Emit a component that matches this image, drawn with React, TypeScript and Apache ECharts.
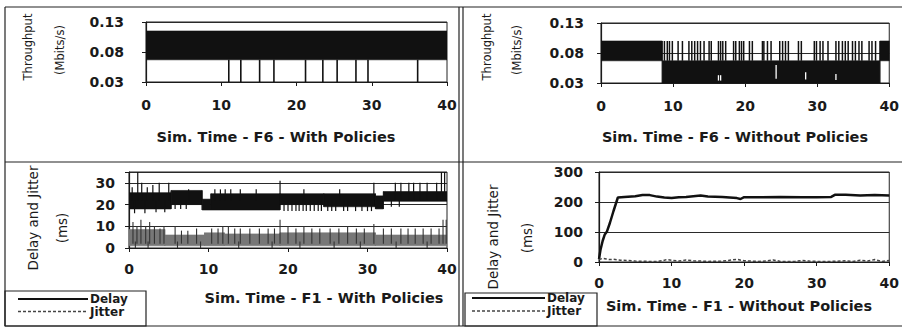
import React, { useEffect, useRef } from 'react';
import * as echarts from 'echarts';

// ---------- Top-left: Throughput, F6, with policies ----------
const tlBandT = [0, 40];
const tlBandLo = [0.067, 0.067];
const tlBandHi = [0.115, 0.115];
const tlDipT = [11.0, 12.6, 15.1, 17.0, 21.2, 23.5, 25.4, 27.9, 29.5, 36.1];
const tlDipFrom = 0.067;
const tlDipTo = 0.03;

// ---------- Top-right: Throughput, F6, without policies ----------
const trBandT = [0, 8.5, 8.5, 38.7, 38.7, 40];
const trBandLo = [0.067, 0.067, 0.03, 0.03, 0.067, 0.067];
const trBandHi = [0.1, 0.1, 0.067, 0.067, 0.1, 0.1];
const trSpikeT = [8.8, 9.2, 9.5, 9.9, 10.7, 11.3, 12.2, 12.6, 13.0, 13.4, 13.8, 14.3, 15.0, 15.3, 16.3, 16.6, 16.9, 17.3, 18.4, 18.7, 19.2, 19.5, 19.8, 20.6, 21.0, 22.4, 22.6, 23.1, 23.6, 24.8, 25.2, 25.6, 26.0, 27.4, 27.8, 29.6, 29.9, 30.4, 30.8, 31.5, 32.6, 33.0, 33.5, 33.9, 34.3, 34.9, 35.3, 35.8, 36.2, 37.2, 37.6, 38.1];
const trSpikeFrom = 0.067;
const trSpikeTo = 0.1;
const trGapT = [16.3, 16.6, 24.3, 28.4, 32.6];
const trGapLo = [0.034, 0.034, 0.037, 0.036, 0.035];
const trGapHi = [0.043, 0.043, 0.06, 0.048, 0.045];

// ---------- Bottom-left: Delay and Jitter, F1, with policies ----------
const blDelayT = [0, 5.3, 5.3, 9.2, 9.2, 10.3, 10.3, 19, 19, 24.5, 24.5, 31, 31, 32, 32, 40];
const blDelayLo = [18, 18, 20, 20, 17.5, 17.5, 17.5, 17.5, 20, 20, 19, 19, 18, 18, 21.5, 21.5];
const blDelayHi = [25.5, 25.5, 26.5, 26.5, 22.5, 22.5, 25, 25, 25, 25, 25, 25, 24, 24, 26, 26];
const blUpT = [0.4, 1.1, 1.6, 2.3, 3.0, 3.8, 5.0, 7.5, 10.8, 11.5, 12.1, 12.8, 14.0, 16.0, 19.0, 22.0, 26.5, 30.8, 33.5, 34.2, 35.2, 35.8, 36.6, 37.5, 38.7, 39.3, 39.7];
const blUpV = [28, 35, 30, 28, 29, 30, 30, 27, 27, 27, 27, 27, 27, 27, 31, 27, 27, 30, 30, 30, 30, 30, 30, 30, 30, 35, 35];
const blDownT = [0.7, 2.0, 3.4, 4.5, 5.8, 6.5, 7.2, 19.5, 20.0, 20.5, 21.0, 21.4, 21.9, 22.3, 22.8, 23.3, 23.8, 24.2, 25.0, 25.5, 26.0, 27.0, 27.5, 28.5, 29.3, 30.0, 30.5, 33.0, 34.0];
const blDownV = [16, 16, 16.5, 16.5, 18, 18, 18, 17, 17, 17, 17, 17, 17, 17, 17, 17, 17, 17, 17, 17, 17, 17, 17, 17, 17, 17, 17, 19, 19];
const blJitT = [0, 4.5, 4.5, 9.5, 9.5, 12, 12, 19, 19, 31, 31, 40];
const blJitLo = [1, 1, 1, 1, 1, 1, 1, 1, 1, 1, 1, 1];
const blJitHi = [8.5, 8.5, 6, 6, 7, 7, 6.5, 6.5, 7, 7, 6, 6];
const blJitSpT = [0.5, 1.0, 1.5, 2.1, 2.6, 3.2, 3.9, 4.4, 5.8, 6.6, 7.4, 8.5, 10.4, 11.2, 11.8, 12.5, 13.3, 14, 15.2, 16.4, 17.5, 18.3, 19, 20, 21, 22, 23, 24, 25.3, 26.4, 27.5, 28.6, 29.6, 30.8, 32, 33, 34.2, 35.1, 36, 37, 38, 39, 39.5, 39.9];
const blJitSpV = [12, 10, 13, 10, 12, 10, 9, 10, 10, 8, 8, 9, 9, 9, 10, 10, 9, 9, 9, 9, 9, 9, 13, 10, 9, 10, 9, 9, 9, 9, 10, 9, 9, 11, 9, 9, 9, 9, 9, 9, 9, 9, 13, 13];
const blJitDownT = [0.8, 2.4, 6.1, 9.0, 13.8, 18.0, 21.5, 25.8, 29.1, 33.6, 37.5];
const blJitDownV = [0, 0, 0, 0, 0, 0, 0, 0, 0, 0, 0];

// ---------- Bottom-right: Delay and Jitter, F1, without policies ----------
const brDelayT = [0, 0.2, 0.5, 0.8, 1.1, 1.5, 2.0, 2.6, 3.5, 5, 6, 7, 8, 9, 10, 11, 12, 14, 15, 17, 19, 19.5, 20, 22, 25, 28, 30, 32, 32.5, 34, 36, 38, 40];
const brDelayV = [10, 40, 70, 92, 102, 130, 170, 215, 217, 219, 223, 223, 218, 215, 213, 216, 217, 222, 218, 217, 213, 210, 216, 216, 217, 216, 216, 217, 224, 224, 222, 223, 222];
const brJitT = [0, 0.5, 1, 1.5, 2, 3, 4, 5, 7, 8, 8.7, 9.3, 10, 11, 12, 13, 15, 17, 18, 19, 20, 22, 23, 24, 25, 27, 28, 29, 30, 32, 34, 35, 36, 37, 38, 39, 40];
const brJitV = [8, 12, 10, 8, 9, 6, 5, 3, 2, 2, 4, 8, 6, 3, 7, 4, 2, 3, 6, 9, 4, 2, 3, 7, 2, 2, 5, 3, 2, 2, 4, 2, 6, 3, 8, 2, 5];

const titles = [
  'Sim. Time - F6 - With Policies',
  'Sim. Time - F6 - Without Policies',
  'Sim. Time - F1 - With Policies',
  'Sim. Time - F1 - Without Policies',
];
const legendNames = ['Delay', 'Jitter'];

const INK = '#1a1a1a';
const BOLD = '"DejaVu Sans", sans-serif';
const DELAY_STYLE = { color: '#111', width: 2.5 };
const JITTER_STYLE = { color: '#444', width: 1.5, dash: [3, 2] };

function bandSeries(name: string, idx: number, t: number[], lo: number[], hi: number[], color: string, z = 2) {
  const data: number[][] = [];
  for (let i = 0; i < t.length - 1; i++) data.push([t[i], lo[i], hi[i], t[i + 1], lo[i + 1], hi[i + 1]]);
  return {
    type: 'custom', name, xAxisIndex: idx, yAxisIndex: idx, data, clip: true, z,
    encode: { x: [0, 3], y: [1, 2, 4, 5] },
    renderItem: (_p: any, api: any) => {
      const a = api.coord([api.value(0), api.value(1)]);
      const b = api.coord([api.value(0), api.value(2)]);
      const c = api.coord([api.value(3), api.value(5)]);
      const d = api.coord([api.value(3), api.value(4)]);
      return { type: 'polygon', shape: { points: [a, b, c, d] }, style: { fill: color, stroke: color, lineWidth: 0.6 } };
    },
  };
}

function spikeSeries(name: string, idx: number, t: number[], from: number | number[], to: number | number[], color: string, width: number, z = 3) {
  const data = t.map((v, i) => [v, Array.isArray(from) ? from[i] : from, Array.isArray(to) ? to[i] : to]);
  return {
    type: 'custom', name, xAxisIndex: idx, yAxisIndex: idx, data, clip: true, z,
    encode: { x: 0, y: [1, 2] },
    renderItem: (_p: any, api: any) => {
      const a = api.coord([api.value(0), api.value(1)]);
      const b = api.coord([api.value(0), api.value(2)]);
      return { type: 'line', shape: { x1: a[0], y1: a[1], x2: b[0], y2: b[1] }, style: { stroke: color, lineWidth: width } };
    },
  };
}

const tickFont = { color: INK, fontFamily: BOLD, fontWeight: 'bold' as const, fontSize: 14 };

function xAxisCfg(gridIndex: number, margin: number) {
  return {
    type: 'value', gridIndex, min: 0, max: 40, interval: 10,
    axisLine: { show: true, onZero: false, lineStyle: { color: INK, width: 1.2 } },
    axisTick: { show: true, length: 4, lineStyle: { color: INK } },
    axisLabel: { ...tickFont, margin },
    splitLine: { show: false },
  };
}

function yAxisCfg(gridIndex: number, min: number, max: number, interval: number, margin: number, fmt: (v: number) => string) {
  return {
    type: 'value', gridIndex, min, max, interval,
    axisLine: { show: true, onZero: false, lineStyle: { color: INK, width: 1.2 } },
    axisTick: { show: true, length: 4, lineStyle: { color: INK } },
    axisLabel: { ...tickFont, margin, formatter: fmt },
    splitLine: { show: true, lineStyle: { color: '#2a2a2a', width: 1 } },
  };
}

function txt(text: string, x: number, y: number, size: number, bold: boolean, rot = 0, align = 'center') {
  return {
    type: 'text', x, y, rotation: rot, silent: true,
    style: {
      text, fill: INK, align, verticalAlign: 'middle',
      font: `${bold ? 'bold ' : ''}${size}px ${BOLD}`,
    },
  };
}

function ln(x1: number, y1: number, x2: number, y2: number, stroke = '#222', lineWidth = 1.2, lineDash?: number[]) {
  return { type: 'line', silent: true, shape: { x1, y1, x2, y2 }, style: { stroke, lineWidth, lineDash } };
}

function legendBlock(x0: number, x1: number, yDelay: number, yJitter: number) {
  return [
    ln(x0, yDelay, x1, yDelay, DELAY_STYLE.color, 2),
    ln(x0, yJitter, x1, yJitter, JITTER_STYLE.color, JITTER_STYLE.width, JITTER_STYLE.dash),
    txt(legendNames[0], x1 + 2, yDelay, 12, true, 0, 'left'),
    txt(legendNames[1], x1 + 2, yJitter, 12, true, 0, 'left'),
  ];
}

export default function App() {
  const ref = useRef<HTMLDivElement>(null);
  useEffect(() => {
    if (!ref.current) return;
    const chart = echarts.init(ref.current, null, { renderer: 'svg' });
    const gridStyle = { show: true, borderColor: '#222', borderWidth: 1, backgroundColor: 'transparent', containLabel: false };
    chart.setOption({
      animation: false,
      backgroundColor: '#ffffff',
      grid: [
        { ...gridStyle, left: 146, top: 22, width: 301, height: 60 },
        { ...gridStyle, left: 601, top: 23, width: 295, height: 60 },
        { ...gridStyle, left: 129, top: 172, width: 318, height: 76 },
        { ...gridStyle, left: 599, top: 172, width: 297, height: 90 },
      ],
      xAxis: [xAxisCfg(0, 16), xAxisCfg(1, 16), xAxisCfg(2, 14), xAxisCfg(3, 14)],
      yAxis: [
        yAxisCfg(0, 0.03, 0.13, 0.05, 22, (v: number) => v.toFixed(2)),
        yAxisCfg(1, 0.03, 0.13, 0.05, 17, (v: number) => v.toFixed(2)),
        yAxisCfg(2, 0, 35, 10, 14, (v: number) => (v > 30 ? '' : String(v))),
        yAxisCfg(3, 0, 300, 100, 16, (v: number) => String(v)),
      ],
      series: [
        bandSeries('Throughput band (with)', 0, tlBandT, tlBandLo, tlBandHi, '#111'),
        spikeSeries('Throughput dips (with)', 0, tlDipT, tlDipFrom, tlDipTo, '#111', 1.6),
        bandSeries('Throughput band (without)', 1, trBandT, trBandLo, trBandHi, '#111'),
        spikeSeries('Throughput spikes (without)', 1, trSpikeT, trSpikeFrom, trSpikeTo, '#111', 1.5),
        spikeSeries('Throughput gaps (without)', 1, trGapT, trGapLo, trGapHi, '#ffffff', 1.3, 4),
        bandSeries('Jitter band (with)', 2, blJitT, blJitLo, blJitHi, '#777'),
        spikeSeries('Jitter spikes (with)', 2, blJitSpT, 2, blJitSpV, '#333', 1.1),
        spikeSeries('Jitter low spikes (with)', 2, blJitDownT, 3, blJitDownV, '#333', 1.1),
        bandSeries('Delay band (with)', 2, blDelayT, blDelayLo, blDelayHi, '#111'),
        spikeSeries('Delay up spikes (with)', 2, blUpT, 22, blUpV, '#111', 1.2),
        spikeSeries('Delay down spikes (with)', 2, blDownT, 22, blDownV, '#111', 1.2),
        {
          type: 'line', name: 'Delay', xAxisIndex: 3, yAxisIndex: 3, symbol: 'none', z: 3,
          data: brDelayT.map((t, i) => [t, brDelayV[i]]),
          lineStyle: { color: DELAY_STYLE.color, width: DELAY_STYLE.width },
        },
        {
          type: 'line', name: 'Jitter', xAxisIndex: 3, yAxisIndex: 3, symbol: 'none', z: 3,
          data: brJitT.map((t, i) => [t, brJitV[i]]),
          lineStyle: { color: JITTER_STYLE.color, width: JITTER_STYLE.width, type: JITTER_STYLE.dash },
        },
      ],
      graphic: [
        ln(5, 7, 902, 7),
        ln(5, 7, 5, 326),
        ln(5, 326, 902, 326),
        ln(5, 162, 902, 162),
        ln(459, 7, 459, 326),
        ln(463, 7, 463, 326),
        { type: 'rect', silent: true, shape: { x: 5, y: 291, width: 141, height: 35 }, style: { fill: 'none', stroke: '#222', lineWidth: 1.2 } },
        { type: 'rect', silent: true, shape: { x: 465, y: 293, width: 132, height: 33 }, style: { fill: 'none', stroke: '#222', lineWidth: 1.2 } },
        ...legendBlock(18, 88, 299, 311.5),
        ...legendBlock(472, 545, 298, 311),
        txt(titles[0], 276, 137, 14.5, true),
        txt(titles[1], 735, 137, 14.5, true),
        txt(titles[2], 324, 298, 14.5, true),
        txt(titles[3], 739, 306, 14.5, true),
        txt('Throughput', 28, 47, 11.5, false, Math.PI / 2),
        txt('(Mbits/s)', 60, 50, 11.5, false, Math.PI / 2),
        txt('Throughput', 487, 47, 11.5, false, Math.PI / 2),
        txt('(Mbits/s)', 517, 50, 11.5, false, Math.PI / 2),
        txt('Delay and Jitter', 33, 218, 13.5, false, Math.PI / 2),
        txt('(ms)', 62, 228, 13.5, false, Math.PI / 2),
        txt('Delay and Jitter', 493, 237, 13.5, false, Math.PI / 2),
        txt('(ms)', 527, 238, 13.5, false, Math.PI / 2),
      ],
    });
    return () => chart.dispose();
  }, []);
  return (
    <div
      ref={ref}
      style={{ position: 'fixed', left: 0, top: 0, width: 902, height: 328, background: '#fff' }}
    />
  );
}
